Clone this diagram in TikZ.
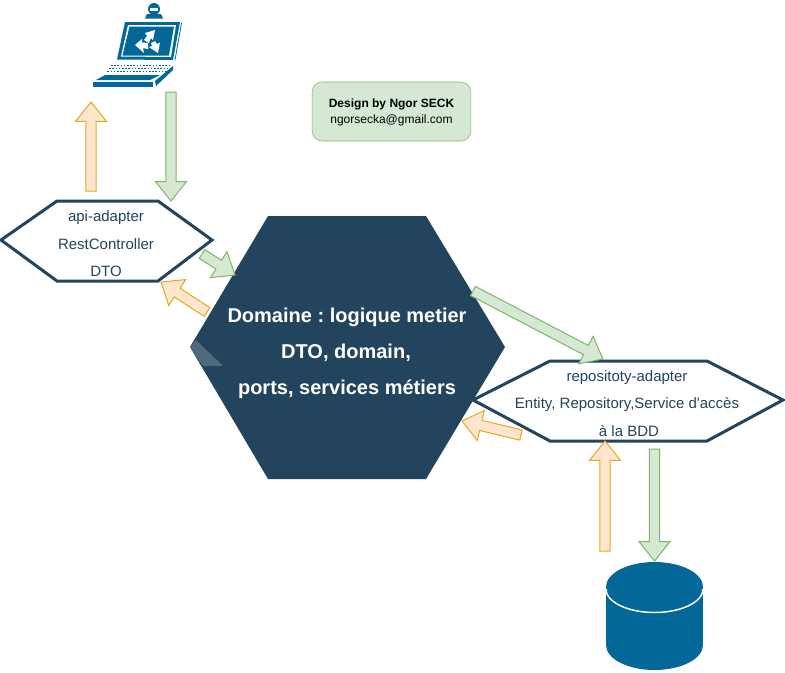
\documentclass[tikz,border=0pt]{standalone}
\usepackage{fontspec}
\setmainfont{Liberation Sans}
\usetikzlibrary{calc}
\definecolor{hexblue}{HTML}{23445D}
\definecolor{iconblue}{HTML}{036897}
\definecolor{greenfill}{HTML}{D5E8D4}
\definecolor{greenline}{HTML}{82B366}
\definecolor{orangefill}{HTML}{FFE6CC}
\definecolor{orangeline}{HTML}{E5A823}
\tikzset{
  adapter/.style={draw=hexblue,line width=2.25pt,fill=white,line join=miter},
  adaptertext/.style={text=hexblue,font=\fontsize{11.25}{13}\selectfont,inner sep=0pt,text height=8pt,text depth=2.5pt},
  coretext/.style={text=white,font=\fontsize{15}{18}\selectfont\bfseries\frenchspacing,inner sep=0pt,text height=11pt,text depth=3pt},
  greenflow/.style={draw=greenline,fill=greenfill,line width=0.75pt,line join=miter},
  orangeflow/.style={draw=orangeline,fill=orangefill,line width=0.75pt,line join=miter},
  icon/.style={fill=iconblue,draw=none},
  iconwhite/.style={fill=white,draw=none}
}
% block arrow: style, from, to
\newcommand{\flowarrow}[3]{
  \draw[#1] ($(#2)!3.9pt!90:(#3)$) -- ($(#2)!3.9pt!-90:(#3)$)
    -- ($($(#3)!14.5pt!(#2)$)!3.9pt!90:(#2)$)
    -- ($($(#3)!14.5pt!(#2)$)!11.6pt!90:(#2)$) -- (#3)
    -- ($($(#3)!14.5pt!(#2)$)!11.6pt!-90:(#2)$)
    -- ($($(#3)!14.5pt!(#2)$)!3.9pt!-90:(#2)$) -- cycle;
}
\begin{document}
\begin{tikzpicture}[x=0.75pt,y=-0.75pt]
  \useasboundingbox (0,0) rectangle (785,672);
  % laptop
  \fill[icon] (154,9) circle[radius=6];
  \fill[iconwhite] (150,8) rectangle (158,10.5);
  \fill[icon] (145,18.5) -- (147,14) -- (161,14) -- (163,18.5) -- cycle;
  \fill[icon] (125,22) -- (180,22) -- (173,60) -- (117,59.5) -- cycle;
  \fill[iconwhite] (128,25) -- (176,25) -- (171,57) -- (121,56.5) -- cycle;
  \fill[icon] (129.5,26.5) -- (174,26.5) -- (169,55.5) -- (122.5,55.5) -- cycle;
  \draw[iconblue,line width=0.6pt] (181.5,23) -- (175,60);
  \fill[iconwhite] (155,30) -- (145,33) -- (147,36) -- (144,40) -- (149,43) -- (151,38) -- (153,40) -- cycle;
  \fill[iconwhite] (135,45) -- (142,39) -- (142,42.5) -- (148,43) -- (148,49) -- (143,48) -- (144,53) -- cycle;
  \fill[iconwhite] (158,53) -- (149,47) -- (152,46) -- (151,43) -- (155,41) -- (157,44) -- (160,42.5) -- cycle;
  \foreach \row in {65,68,71}
    \draw[iconblue,line width=0.6pt,dash pattern=on 1.2pt off 1.2pt] (150-\row*0.6,\row) -- ++(60,0);
  \fill[icon] (96,80) -- (105,75) -- (160,75) -- (150,80) -- cycle;
  \fill[icon] (93,81.5) rectangle (153,87);
  \fill[icon] (156,86) -- (173,70) -- (173,66) -- (155,81) -- cycle;
  % design box
  \node[draw=greenline,fill=greenfill,rounded corners=7.5pt,minimum width=119pt,minimum height=44.25pt,inner sep=0pt] (design) at (391.5,111.5) {};
  \node[inner sep=0pt,align=center,font=\fontsize{9}{11.5}\selectfont] (designtext) at (391.5,112.5) {\textbf{Design by Ngor SECK}\\ngorsecka@gmail.com};
  % core
  \fill[hexblue] (190,347) -- (268,216) -- (426,216) -- (505,347) -- (426,479) -- (268,479) -- cycle;
  \fill[white,opacity=0.2] (190,347) -- (196,340) -- (223,366) -- (203,366) -- cycle;
  \node[coretext] (domaine) at (347,317.5) {Domaine : logique metier};
  \node[coretext] (dtodomain) at (346,353) {DTO, domain,};
  \node[coretext] (ports) at (347,389.5) {ports, services métiers};
  % api adapter
  \draw[adapter] (1,240) -- (57,201) -- (158,201) -- (212,240) -- (158,281) -- (57,281) -- cycle;
  \node[adaptertext] (api) at (106,218) {api-adapter};
  \node[adaptertext] (rest) at (106,246) {RestController};
  \node[adaptertext] (dto) at (106,272.5) {DTO};
  % repository adapter
  \draw[adapter] (473,400) -- (550,361) -- (707,361) -- (783,400) -- (707,441) -- (550,441) -- cycle;
  \node[adaptertext] (repo) at (627,377.5) {repositoty-adapter};
  \node[adaptertext] (entity) at (627,405) {Entity, Repository,Service d\textquotesingle accès};
  \node[adaptertext] (bdd) at (629,433) {à la BDD};
  % database
  \fill[iconblue] (654.5,645) ellipse[x radius=48.5,y radius=25];
  \fill[iconblue] (606,587) rectangle (703,645);
  \fill[iconblue] (654.5,587) ellipse[x radius=48.5,y radius=25];
  \draw[white,line width=1.1pt] (606,589) arc[start angle=180,end angle=0,x radius=48.5,y radius=23.5];
  % flows
  \coordinate (laptopin) at (91,191);
  \coordinate (laptopout) at (91,102);
  \coordinate (apiin) at (171,92);
  \coordinate (apiout) at (171,201);
  \coordinate (corein) at (202,254);
  \coordinate (coretip) at (235,275);
  \coordinate (coreback) at (207,312);
  \coordinate (apiback) at (161,282);
  \coordinate (repostart) at (473,291);
  \coordinate (repotip) at (603,359);
  \coordinate (repoback) at (521,435);
  \coordinate (coreret) at (462,421);
  \coordinate (dbup) at (605,551);
  \coordinate (dbuptip) at (605,441);
  \coordinate (dbdown) at (654.5,449);
  \coordinate (dbdowntip) at (654.5,561);
  \flowarrow{orangeflow}{laptopin}{laptopout}
  \flowarrow{greenflow}{apiin}{apiout}
  \flowarrow{greenflow}{corein}{coretip}
  \flowarrow{orangeflow}{coreback}{apiback}
  \flowarrow{greenflow}{repostart}{repotip}
  \flowarrow{orangeflow}{repoback}{coreret}
  \flowarrow{orangeflow}{dbup}{dbuptip}
  \flowarrow{greenflow}{dbdown}{dbdowntip}
\end{tikzpicture}
\end{document}
